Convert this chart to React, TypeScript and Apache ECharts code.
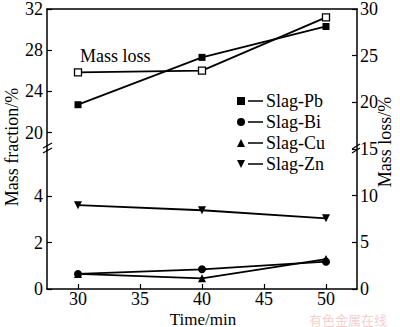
import React, { useEffect, useRef } from "react";
import * as echarts from "echarts";

const timeMin = [30, 40, 50];
const xTicks = [30, 35, 40, 45, 50];
const upperTicks = [20, 24, 28, 32];
const lowerTicks = [0, 2, 4];
const slagPb = [22.7, 27.3, 30.3];
const massLoss = [23.2, 23.4, 29.1];
const slagBi = [0.65, 0.85, 1.18];
const slagCu = [0.65, 0.46, 1.29];
const slagZn = [3.62, 3.4, 3.05];

const FONT = '"Liberation Serif", "Times New Roman", serif';
const pair = (ys: number[]) => timeMin.map((x, i) => [x, ys[i]]);

export default function App() {
  const ref = useRef<HTMLDivElement>(null);
  useEffect(() => {
    if (!ref.current) return;
    const chart = echarts.init(ref.current, null, { renderer: "svg" });
    const axisLine = { show: true, lineStyle: { color: "#000", width: 1.5 } };
    const label = { color: "#000", fontSize: 18, fontFamily: FONT };
    const gridBase = { left: 47, right: 43 };
    const lineStyle = { color: "#000", width: 1.8 };
    const iconLine = "M11,3.3 h15 v1.4 h-15 z";
    const option: any = {
      animation: false,
      grid: [
        { ...gridBase, top: 6, height: 144 },
        { ...gridBase, top: 150, bottom: 38 },
        { ...gridBase, top: 6, bottom: 38 },
      ],
      xAxis: [
        { gridIndex: 0, type: "value", min: 27.5, max: 52.5, position: "top", axisLine, axisTick: { show: false }, axisLabel: { show: false }, splitLine: { show: false } },
        { gridIndex: 1, type: "value", min: 27.5, max: 52.5, show: false },
        {
          gridIndex: 2, type: "value", min: 27.5, max: 52.5, position: "bottom", axisLine,
          axisTick: { inside: true, length: 5, customValues: xTicks, lineStyle: { color: "#000", width: 1.2 } },
          axisLabel: { ...label, margin: 3, lineHeight: 14, customValues: xTicks },
          splitLine: { show: false },
        },
      ],
      yAxis: [
        {
          gridIndex: 0, type: "value", min: 18.3, max: 32, position: "left", axisLine,
          axisTick: { inside: true, length: 5, customValues: upperTicks, lineStyle: { color: "#000", width: 1.2 } },
          axisLabel: { ...label, margin: 4, customValues: upperTicks },
          splitLine: { show: false },
        },
        {
          gridIndex: 1, type: "value", min: 0, max: 6, position: "left", axisLine,
          axisTick: { inside: true, length: 5, customValues: lowerTicks, lineStyle: { color: "#000", width: 1.2 } },
          axisLabel: { ...label, margin: 4, customValues: lowerTicks },
          splitLine: { show: false },
        },
        {
          gridIndex: 2, type: "value", min: 0, max: 30, interval: 5, position: "right", axisLine,
          axisTick: { inside: true, length: 5, lineStyle: { color: "#000", width: 1.2 } },
          axisLabel: { ...label, margin: 3 },
          splitLine: { show: false },
        },
      ],
      legend: {
        orient: "vertical",
        left: 232,
        top: 87,
        itemGap: 3,
        itemWidth: 26,
        itemHeight: 8,
        textStyle: { ...label, fontSize: 18, lineHeight: 18, padding: [0, 0, 0, -2] },
        data: [
          { name: "Slag-Pb", icon: "path://M0,0 h8 v8 h-8 z " + iconLine },
          { name: "Slag-Bi", icon: "path://M0,4 a4,4 0 1,0 8,0 a4,4 0 1,0 -8,0 z " + iconLine },
          { name: "Slag-Cu", icon: "path://M4,0 L8,8 L0,8 z " + iconLine },
          { name: "Slag-Zn", icon: "path://M0,0 L8,0 L4,8 z " + iconLine },
        ],
      },
      series: [
        {
          name: "Slag-Pb", type: "line", xAxisIndex: 0, yAxisIndex: 0, data: pair(slagPb),
          symbol: "rect", symbolSize: 7, lineStyle, itemStyle: { color: "#000" },
        },
        {
          name: "Mass loss", type: "line", xAxisIndex: 2, yAxisIndex: 2, data: pair(massLoss),
          symbol: "rect", symbolSize: 7, lineStyle, itemStyle: { color: "#fff", borderColor: "#000", borderWidth: 1.3 },
        },
        {
          name: "Slag-Bi", type: "line", xAxisIndex: 1, yAxisIndex: 1, data: pair(slagBi),
          symbol: "circle", symbolSize: 8, lineStyle, itemStyle: { color: "#000" },
        },
        {
          name: "Slag-Cu", type: "line", xAxisIndex: 1, yAxisIndex: 1, data: pair(slagCu),
          symbol: "triangle", symbolSize: 8, lineStyle, itemStyle: { color: "#000" },
        },
        {
          name: "Slag-Zn", type: "line", xAxisIndex: 1, yAxisIndex: 1, data: pair(slagZn),
          symbol: "triangle", symbolRotate: 180, symbolSize: 8, lineStyle, itemStyle: { color: "#000" },
        },
      ],
      graphic: [
        { type: "text", left: 80, top: 47, style: { text: "Mass loss", fill: "#000", font: `18px ${FONT}` } },
        { type: "text", x: 12, y: 147, rotation: Math.PI / 2, style: { text: "Mass fraction/%", fill: "#000", font: `18px ${FONT}`, align: "center", verticalAlign: "middle" } },
        { type: "text", x: 385, y: 142, rotation: Math.PI / 2, style: { text: "Mass loss/%", fill: "#000", font: `18px ${FONT}`, align: "center", verticalAlign: "middle" } },
        { type: "text", x: 203, y: 319, style: { text: "Time/min", fill: "#000", font: `17px ${FONT}`, align: "center", verticalAlign: "middle" } },
        { type: "line", shape: { x1: 43, y1: 148, x2: 52, y2: 143 }, style: { stroke: "#000", lineWidth: 1.2 } },
        { type: "line", shape: { x1: 43, y1: 153, x2: 52, y2: 148 }, style: { stroke: "#000", lineWidth: 1.2 } },
        { type: "line", shape: { x1: 352, y1: 149, x2: 360, y2: 144 }, style: { stroke: "#000", lineWidth: 1.2 } },
        { type: "line", shape: { x1: 352, y1: 153, x2: 360, y2: 148 }, style: { stroke: "#000", lineWidth: 1.2 } },
        { type: "text", x: 348, y: 319, style: { text: "有色金属在线", fill: "rgba(225,110,110,0.35)", font: `13px "Noto Sans CJK SC"`, align: "center", verticalAlign: "middle" } },
      ],
    };
    chart.setOption(option);
    return () => chart.dispose();
  }, []);
  return <div ref={ref} style={{ width: 400, height: 327, position: "absolute", left: 0, top: 0 }} />;
}
